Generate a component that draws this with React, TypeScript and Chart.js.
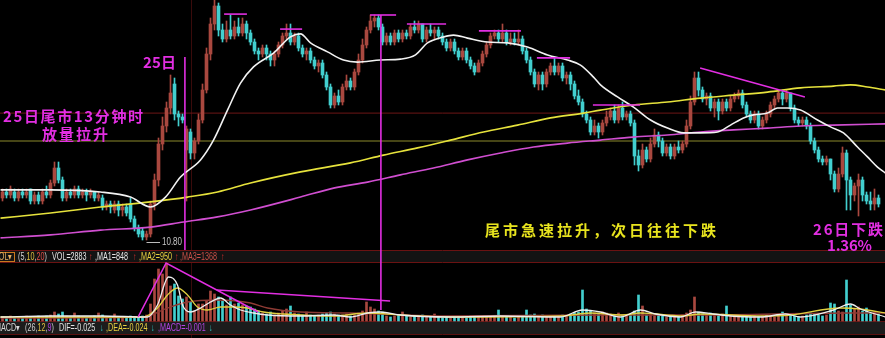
import React, { useEffect, useRef } from 'react';
import { Chart, registerables } from 'chart.js';

Chart.register(...registerables);

// ---- 1-minute bars, oldest first ----
const OPEN = [
  10.94, 10.96, 10.95, 10.96, 10.94, 10.96, 10.95, 10.97, 10.93, 10.95,
  10.93, 10.96, 10.95, 10.99, 11.04, 11.00, 10.94, 10.96, 10.95, 10.97,
  10.95, 10.96, 10.95, 10.96, 10.94, 10.94, 10.91, 10.92, 10.90, 10.92,
  10.90, 10.91, 10.92, 10.87, 10.84, 10.83, 10.81, 10.82, 10.92, 11.00,
  11.12, 11.18, 11.24, 11.32, 11.22, 11.21, 11.10, 11.16, 11.09, 11.13,
  11.20, 11.30, 11.42, 11.52, 11.58, 11.50, 11.47, 11.50, 11.48, 11.51,
  11.49, 11.52, 11.49, 11.46, 11.43, 11.42, 11.44, 11.42, 11.40, 11.42,
  11.45, 11.48, 11.49, 11.46, 11.48, 11.44, 11.42, 11.43, 11.40, 11.38,
  11.39, 11.35, 11.31, 11.25, 11.28, 11.26, 11.31, 11.33, 11.31, 11.36,
  11.40, 11.45, 11.50, 11.53, 11.54, 11.51, 11.46, 11.48, 11.46, 11.49,
  11.47, 11.49, 11.48, 11.51, 11.50, 11.52, 11.47, 11.50, 11.49, 11.50,
  11.48, 11.46, 11.44, 11.46, 11.43, 11.41, 11.43, 11.40, 11.38, 11.36,
  11.39, 11.42, 11.45, 11.48, 11.49, 11.47, 11.49, 11.46, 11.47, 11.46,
  11.47, 11.43, 11.40, 11.36, 11.32, 11.35, 11.32, 11.36, 11.38, 11.36,
  11.38, 11.34, 11.35, 11.32, 11.28, 11.26, 11.22, 11.20, 11.16, 11.18,
  11.16, 11.19, 11.21, 11.23, 11.20, 11.24, 11.21, 11.22, 11.19, 11.08,
  11.05, 11.10, 11.07, 11.12, 11.15, 11.13, 11.09, 11.11, 11.08, 11.11,
  11.10, 11.12, 11.18, 11.26, 11.34, 11.30, 11.27, 11.28, 11.24, 11.26,
  11.23, 11.26, 11.24, 11.27, 11.28, 11.29, 11.25, 11.22, 11.20, 11.22,
  11.18, 11.20, 11.22, 11.25, 11.27, 11.29, 11.27, 11.29, 11.24, 11.20,
  11.19, 11.20, 11.18, 11.13, 11.10, 11.07, 11.06, 11.07, 11.02, 10.97,
  11.02, 11.09, 11.00, 10.95, 10.98, 11.00, 10.95, 10.93, 10.92, 10.94,
];

const CLOSE = [
  10.96, 10.95, 10.97, 10.94, 10.96, 10.95, 10.96, 10.93, 10.95, 10.93,
  10.96, 10.95, 10.99, 11.04, 11.00, 10.94, 10.96, 10.95, 10.97, 10.95,
  10.96, 10.95, 10.96, 10.94, 10.95, 10.91, 10.92, 10.91, 10.92, 10.90,
  10.91, 10.89, 10.87, 10.84, 10.82, 10.81, 10.82, 10.92, 11.00, 11.12,
  11.18, 11.24, 11.29, 11.22, 11.21, 11.20, 11.17, 11.09, 11.13, 11.20,
  11.30, 11.42, 11.52, 11.58, 11.50, 11.47, 11.50, 11.48, 11.51, 11.49,
  11.52, 11.49, 11.46, 11.43, 11.42, 11.44, 11.42, 11.40, 11.42, 11.45,
  11.48, 11.49, 11.46, 11.48, 11.44, 11.42, 11.43, 11.40, 11.38, 11.39,
  11.35, 11.31, 11.25, 11.28, 11.26, 11.31, 11.33, 11.31, 11.36, 11.40,
  11.45, 11.50, 11.53, 11.54, 11.51, 11.46, 11.48, 11.46, 11.49, 11.47,
  11.49, 11.48, 11.51, 11.50, 11.52, 11.47, 11.50, 11.49, 11.50, 11.48,
  11.46, 11.44, 11.46, 11.43, 11.41, 11.43, 11.40, 11.38, 11.36, 11.39,
  11.42, 11.45, 11.48, 11.49, 11.47, 11.49, 11.46, 11.47, 11.46, 11.47,
  11.43, 11.40, 11.36, 11.32, 11.35, 11.32, 11.36, 11.38, 11.36, 11.38,
  11.34, 11.35, 11.32, 11.28, 11.26, 11.22, 11.20, 11.16, 11.18, 11.16,
  11.19, 11.21, 11.23, 11.20, 11.24, 11.21, 11.22, 11.19, 11.08, 11.05,
  11.10, 11.07, 11.12, 11.15, 11.13, 11.09, 11.11, 11.08, 11.11, 11.10,
  11.12, 11.18, 11.26, 11.34, 11.30, 11.27, 11.28, 11.24, 11.26, 11.23,
  11.26, 11.24, 11.27, 11.28, 11.29, 11.25, 11.22, 11.20, 11.22, 11.18,
  11.20, 11.22, 11.25, 11.27, 11.29, 11.27, 11.29, 11.24, 11.20, 11.19,
  11.20, 11.18, 11.13, 11.10, 11.07, 11.06, 11.07, 11.02, 10.97, 11.02,
  11.09, 11.00, 10.95, 10.98, 11.00, 10.95, 10.93, 10.92, 10.94, 10.92,
];

const HIGH = [
  10.97, 10.97, 10.98, 10.97, 10.97, 10.97, 10.97, 10.97, 10.96, 10.96,
  10.97, 10.98, 11.00, 11.06, 11.06, 11.01, 10.97, 10.97, 10.98, 10.98,
  10.97, 10.97, 10.97, 10.96, 10.96, 10.95, 10.93, 10.93, 10.93, 10.93,
  10.92, 10.92, 10.94, 10.88, 10.85, 10.84, 10.83, 10.93, 11.02, 11.14,
  11.21, 11.26, 11.35, 11.34, 11.23, 11.22, 11.18, 11.17, 11.14, 11.22,
  11.32, 11.44, 11.54, 11.60, 11.59, 11.52, 11.53, 11.55, 11.53, 11.54,
  11.54, 11.53, 11.50, 11.47, 11.44, 11.45, 11.45, 11.43, 11.43, 11.46,
  11.49, 11.52, 11.52, 11.49, 11.49, 11.45, 11.44, 11.44, 11.41, 11.40,
  11.40, 11.36, 11.32, 11.29, 11.30, 11.32, 11.35, 11.34, 11.37, 11.42,
  11.47, 11.51, 11.55, 11.55, 11.55, 11.52, 11.49, 11.49, 11.50, 11.50,
  11.50, 11.50, 11.52, 11.53, 11.53, 11.52, 11.51, 11.52, 11.51, 11.51,
  11.49, 11.47, 11.47, 11.47, 11.44, 11.44, 11.44, 11.41, 11.39, 11.40,
  11.43, 11.46, 11.49, 11.50, 11.50, 11.52, 11.50, 11.49, 11.49, 11.50,
  11.48, 11.44, 11.41, 11.37, 11.36, 11.36, 11.37, 11.39, 11.41, 11.39,
  11.39, 11.36, 11.36, 11.33, 11.30, 11.27, 11.23, 11.21, 11.20, 11.19,
  11.20, 11.23, 11.24, 11.25, 11.25, 11.26, 11.23, 11.23, 11.20, 11.10,
  11.12, 11.11, 11.14, 11.17, 11.16, 11.14, 11.12, 11.12, 11.12, 11.13,
  11.13, 11.20, 11.28, 11.36, 11.36, 11.31, 11.29, 11.29, 11.27, 11.27,
  11.27, 11.27, 11.28, 11.29, 11.30, 11.30, 11.26, 11.23, 11.23, 11.23,
  11.21, 11.23, 11.26, 11.28, 11.30, 11.30, 11.30, 11.29, 11.25, 11.21,
  11.21, 11.21, 11.19, 11.14, 11.11, 11.08, 11.08, 11.07, 11.03, 11.04,
  11.11, 11.10, 11.01, 10.99, 11.02, 11.01, 10.96, 10.96, 10.97, 10.95,
];

const LOW = [
  10.93, 10.94, 10.94, 10.93, 10.93, 10.94, 10.94, 10.92, 10.92, 10.92,
  10.92, 10.94, 10.94, 10.98, 10.99, 10.93, 10.93, 10.94, 10.94, 10.94,
  10.94, 10.93, 10.94, 10.93, 10.93, 10.90, 10.90, 10.89, 10.89, 10.88,
  10.88, 10.88, 10.86, 10.83, 10.81, 10.80, 10.80, 10.81, 10.90, 10.98,
  11.10, 11.16, 11.22, 11.20, 11.18, 11.19, 10.93, 11.07, 11.07, 11.12,
  11.19, 11.29, 11.40, 11.50, 11.48, 11.46, 11.46, 11.47, 11.47, 11.48,
  11.48, 11.47, 11.45, 11.42, 11.40, 11.41, 11.40, 11.38, 11.38, 11.41,
  11.44, 11.47, 11.45, 11.45, 11.43, 11.41, 11.40, 11.39, 11.37, 11.36,
  11.34, 11.30, 11.24, 11.24, 11.25, 11.25, 11.30, 11.30, 11.30, 11.35,
  11.39, 11.44, 11.49, 11.51, 11.50, 11.45, 11.45, 11.45, 11.45, 11.46,
  11.46, 11.47, 11.47, 11.49, 11.49, 11.46, 11.46, 11.48, 11.47, 11.47,
  11.45, 11.43, 11.43, 11.42, 11.40, 11.40, 11.39, 11.37, 11.35, 11.36,
  11.38, 11.41, 11.44, 11.47, 11.46, 11.46, 11.45, 11.45, 11.45, 11.45,
  11.42, 11.39, 11.35, 11.31, 11.30, 11.30, 11.31, 11.35, 11.35, 11.35,
  11.33, 11.32, 11.30, 11.27, 11.25, 11.21, 11.19, 11.15, 11.15, 11.14,
  11.15, 11.18, 11.20, 11.19, 11.19, 11.20, 11.20, 11.18, 11.05, 11.03,
  11.04, 11.06, 11.06, 11.11, 11.11, 11.08, 11.08, 11.07, 11.07, 11.09,
  11.09, 11.11, 11.17, 11.25, 11.28, 11.26, 11.25, 11.23, 11.21, 11.20,
  11.22, 11.23, 11.23, 11.26, 11.27, 11.24, 11.21, 11.19, 11.19, 11.17,
  11.17, 11.19, 11.21, 11.24, 11.26, 11.25, 11.26, 11.23, 11.19, 11.18,
  11.18, 11.17, 11.12, 11.09, 11.06, 11.05, 11.05, 11.00, 10.96, 10.96,
  11.01, 10.90, 10.90, 10.93, 10.88, 10.93, 10.92, 10.90, 10.90, 10.91,
];

const VOLUME = [
  200, 150, 250, 150, 200, 150, 250, 200, 150, 250,
  200, 250, 300, 450, 350, 450, 250, 200, 400, 250,
  200, 150, 200, 250, 400, 300, 200, 150, 350, 200,
  150, 200, 250, 200, 150, 250, 300, 850, 2100, 2600,
  2350, 2850, 1750, 1850, 1250, 1100, 1200, 950, 500, 850,
  850, 1000, 1500, 1350, 1200, 1000, 800, 1200, 850, 900,
  800, 750, 700, 600, 500, 400, 350, 450, 300, 400,
  500, 600, 750, 400, 350, 300, 450, 300, 250, 300,
  350, 400, 450, 350, 300, 300, 350, 250, 300, 400,
  500, 950, 700, 600, 500, 450, 250, 200, 250, 300,
  450, 250, 200, 250, 200, 300, 250, 200, 350, 200,
  150, 200, 150, 200, 150, 200, 150, 250, 200, 250,
  200, 250, 200, 250, 550, 200, 250, 200, 150, 200,
  250, 550, 300, 350, 250, 300, 250, 200, 250, 200,
  300, 250, 350, 400, 450, 1550, 600, 500, 400, 350,
  450, 400, 350, 300, 400, 300, 250, 300, 500, 1300,
  750, 300, 350, 250, 300, 250, 200, 250, 200, 250,
  300, 400, 550, 1200, 450, 350, 300, 400, 300, 250,
  350, 750, 300, 250, 200, 300, 250, 200, 250, 200,
  250, 300, 250, 200, 250, 450, 250, 300, 250, 200,
  250, 300, 400, 350, 300, 250, 300, 900, 850, 500,
  450, 2050, 800, 600, 700, 500, 650, 400, 450, 350,
];

// ---- price moving averages, [bar index, value] ----
const MA_SHORT: [number, number][] = [
  [-0.5, 10.967], [12, 10.967], [24.5, 10.96], [32, 10.943], [37, 10.91], [40.75, 10.943],
  [44.5, 11.01], [49.5, 11.067], [52.75, 11.133], [56.25, 11.233], [59.5, 11.323], [62.75, 11.377],
  [67.75, 11.423], [72, 11.477], [74.5, 11.487], [77, 11.457], [81.25, 11.427], [85.25, 11.4],
  [88.75, 11.393], [94.5, 11.4], [99.5, 11.403], [103.25, 11.417], [106.25, 11.457], [110.25, 11.477],
  [112.75, 11.483], [116.25, 11.473], [121.25, 11.46], [126.25, 11.457], [131.25, 11.443], [136.25, 11.417],
  [141.25, 11.4], [144.5, 11.383], [147.75, 11.343], [149.5, 11.317], [153.75, 11.277], [157.75, 11.243],
  [162, 11.2], [166.25, 11.173], [170.25, 11.157], [174.5, 11.157], [178.75, 11.16], [182, 11.183],
  [185.25, 11.207], [187.75, 11.217], [191.25, 11.223], [193.75, 11.24], [196.25, 11.24], [199.5, 11.233],
  [203.75, 11.2], [207, 11.177], [210.25, 11.157], [213.75, 11.11], [216.25, 11.077], [218.75, 11.043],
  [220.75, 11.023],
];

const MA_MID: [number, number][] = [
  [-0.5, 10.873], [12, 10.89], [24.5, 10.91], [37, 10.927], [46.25, 10.943], [53.75, 10.96],
  [62, 10.99], [74.5, 11.027], [87, 11.057], [95.25, 11.083], [103.75, 11.107], [112, 11.133],
  [120.25, 11.16], [128.75, 11.183], [137, 11.207], [145.25, 11.223], [149.5, 11.233], [157.75, 11.25],
  [166.25, 11.26], [174.5, 11.273], [182.75, 11.283], [191.25, 11.293], [199.5, 11.307], [207.75, 11.313],
  [212, 11.317], [216.25, 11.31], [220.75, 11.3],
];

const MA_LONG: [number, number][] = [
  [-0.5, 10.807], [12, 10.817], [24.5, 10.833], [37, 10.843], [45.25, 10.86], [53.75, 10.877],
  [62, 10.9], [74.5, 10.943], [82.75, 10.973], [91.25, 10.993], [99.5, 11.017], [107.75, 11.04],
  [116.25, 11.067], [124.5, 11.09], [132.75, 11.11], [141.25, 11.123], [149.5, 11.133], [157.75, 11.143],
  [166.25, 11.15], [174.5, 11.16], [182.75, 11.167], [191.25, 11.173], [199.5, 11.18], [207.75, 11.183],
  [220.75, 11.187],
];

// ---- volume moving averages ----
const VOL_MA1: [number, number][] = [
  [-0.5, 200], [12, 250], [24.5, 250], [36.25, 200], [38.75, 800], [41.5, 2200], [43.75, 1800],
  [45, 800], [47, 450], [49.5, 650], [52, 950], [54.5, 1150], [57, 800], [59.5, 550], [62.75, 400],
  [66.25, 300], [74.5, 250], [82.75, 300], [87, 200], [91.25, 400], [94.5, 450], [99.5, 300],
  [112, 200], [124.5, 250], [139.5, 200], [145, 550], [149.5, 450], [154.5, 200], [159.5, 550],
  [163.25, 350], [169.5, 200], [173.25, 450], [177.75, 350], [182, 250], [189.5, 200], [195.75, 350],
  [199.5, 200], [207.75, 550], [212, 850], [214.5, 600], [220.75, 200],
];

const VOL_MA2: [number, number][] = [
  [-0.5, 200], [35.25, 200], [38.75, 650], [41.25, 1300], [43.75, 1650], [46.25, 1300], [48.75, 700],
  [51.25, 550], [54.5, 700], [57.75, 700], [61.25, 650], [65.25, 450], [70.25, 350], [82.75, 250],
  [91.25, 400], [99.5, 300], [112, 200], [140, 250], [147, 400], [155, 300], [159.5, 400], [170, 250],
  [174.5, 350], [190, 250], [197, 300], [209.5, 650], [214.5, 600], [220.75, 400],
];

const VOL_MA3: [number, number][] = [
  [-0.5, 150], [35.25, 200], [41.25, 650], [46.25, 950], [53.75, 1050], [62, 900], [66.25, 650],
  [74.5, 450], [87, 400], [112, 250], [149.5, 300], [174.5, 300], [212, 400], [220.75, 400],
];

// ---- reference levels and hand-drawn markings ----
const REF_UPPER = 11.223;
const REF_LOWER = 11.13;
const DAY_LOW = 10.8;
const DAY_LOW_BAR = 36;
const MARK_25 = { at: 45.6, top: 11.41 };
const MARK_CLOSE = { at: 94.6, top: 11.55, volBottom: 550 };
const TOP_MARKS: [number, number, number][] = [
  [55.4, 61.1, 11.553], [69.4, 74.9, 11.503], [91.9, 98.4, 11.55], [101.1, 110.9, 11.52],
  [119.1, 129.6, 11.497], [133.6, 141.9, 11.407], [147.6, 159.4, 11.25],
];
const TREND_LINE: [number, number][] = [[174.4, 11.373], [200.6, 11.277]];
const VOL_WEDGE: [number, number][] = [[33.9, 200], [40.9, 2900], [63.9, 450]];
const VOL_TREND: [number, number][] = [[53.6, 1550], [96.9, 1000]];

// ---- scale geometry ----
const W = 885;
const H = 338;
const BAR_PITCH = 4;
const X_MIN = -0.625;
const X_MAX = W / BAR_PITCH - 0.625;
const PRICE_MAX = 11.6;
const PX_PER_CENT = 3;
const PRICE_MIN = PRICE_MAX - H / (PX_PER_CENT * 100);
const MAIN_FLOOR = PRICE_MAX - 250 / (PX_PER_CENT * 100);
const VOL_PER_PX = 50;
const VOL_BASE_Y = 321;
const VOL_MAX = VOL_BASE_Y * VOL_PER_PX;
const VOL_MIN = -(H - VOL_BASE_Y) * VOL_PER_PX;

const UP = '#a9483f';
const DOWN = '#42cfcf';
const MAGENTA = '#e22ee2';
const TEXT_YELLOW = '#e8e41e';
const CJK = '"Noto Sans CJK SC", "Noto Sans CJK TC", sans-serif';
const LATIN = '"Liberation Sans", Arial, sans-serif';

type Seg = [string, string];

function segText(ctx: CanvasRenderingContext2D, segs: Seg[], x: number, y: number, sx: number) {
  ctx.save();
  ctx.translate(x, y);
  ctx.scale(sx, 1);
  let cx = 0;
  for (const [t, c] of segs) {
    ctx.fillStyle = c;
    ctx.fillText(t, cx, 0);
    cx += ctx.measureText(t).width;
  }
  ctx.restore();
}

function spread(ctx: CanvasRenderingContext2D, text: string, x0: number, x1: number, y: number, font: string, color: string) {
  ctx.font = font;
  ctx.fillStyle = color;
  ctx.textBaseline = 'middle';
  ctx.textAlign = 'left';
  const chars = Array.from(text);
  const widths = chars.map((c) => ctx.measureText(c).width);
  const total = widths.reduce((a, b) => a + b, 0);
  const gap = chars.length > 1 ? (x1 - x0 - total) / (chars.length - 1) : 0;
  let x = x0;
  chars.forEach((c, k) => {
    ctx.fillText(c, x, y);
    x += widths[k] + gap;
  });
}

function seg(ctx: CanvasRenderingContext2D, x1: number, y1: number, x2: number, y2: number) {
  ctx.beginPath();
  ctx.moveTo(x1, y1);
  ctx.lineTo(x2, y2);
  ctx.stroke();
}

const decor = {
  id: 'decor',
  beforeDraw(chart: any) {
    const { ctx } = chart;
    const sx = chart.scales.x;
    ctx.save();
    ctx.fillStyle = '#000';
    ctx.fillRect(0, 0, W, H);
    // session divider
    ctx.strokeStyle = '#3a0b0b';
    ctx.lineWidth = 1;
    const gx = Math.round(sx.getPixelForValue(47)) + 0.5;
    seg(ctx, gx, 0, gx, H);
    // volume header strip
    ctx.fillStyle = '#131313';
    ctx.fillRect(0, 251, W, 11);
    ctx.strokeStyle = '#6a1212';
    seg(ctx, 0, 250.5, W, 250.5);
    seg(ctx, 0, 262.5, W, 262.5);
    // MACD header strip
    ctx.fillStyle = '#1c1c1c';
    ctx.fillRect(0, 322, W, 12);
    ctx.strokeStyle = '#5a1010';
    seg(ctx, 0, 321.5, W, 321.5);
    seg(ctx, 0, 334.5, W, 334.5);
    ctx.restore();
  },
  afterDatasetsDraw(chart: any) {
    const { ctx } = chart;
    const X = (v: number) => chart.scales.x.getPixelForValue(v);
    const Y = (v: number) => chart.scales.y.getPixelForValue(v);
    const V = (v: number) => chart.scales.yv.getPixelForValue(v);
    ctx.save();

    // hand-drawn markings
    ctx.strokeStyle = MAGENTA;
    ctx.lineWidth = 1.6;
    seg(ctx, X(MARK_25.at), Y(MARK_25.top), X(MARK_25.at), Y(MAIN_FLOOR));
    seg(ctx, X(MARK_CLOSE.at), Y(MARK_CLOSE.top), X(MARK_CLOSE.at), V(MARK_CLOSE.volBottom));
    for (const [a, b, p] of TOP_MARKS) seg(ctx, X(a), Y(p), X(b), Y(p));
    seg(ctx, X(TREND_LINE[0][0]), Y(TREND_LINE[0][1]), X(TREND_LINE[1][0]), Y(TREND_LINE[1][1]));
    ctx.beginPath();
    VOL_WEDGE.forEach(([i, v], k) => (k ? ctx.lineTo(X(i), V(v)) : ctx.moveTo(X(i), V(v))));
    ctx.stroke();
    seg(ctx, X(VOL_TREND[0][0]), V(VOL_TREND[0][1]), X(VOL_TREND[1][0]), V(VOL_TREND[1][1]));

    // day-low label
    const ly = Math.round(Y(DAY_LOW)) + 2.5;
    ctx.strokeStyle = '#bcbcbc';
    ctx.lineWidth = 1;
    seg(ctx, X(DAY_LOW_BAR), ly, 160, ly);
    ctx.font = `10px ${LATIN}`;
    ctx.textBaseline = 'middle';
    ctx.textAlign = 'left';
    segText(ctx, [['10.80', '#c4c4c4']], 162, ly, 0.8);

    // annotations
    const big = `700 15px ${CJK}`;
    spread(ctx, '25日', 143, 176, 62, big, MAGENTA);
    spread(ctx, '25日尾市13分钟时', 3, 143, 116, big, MAGENTA);
    spread(ctx, '放量拉升', 42, 108, 134, big, MAGENTA);
    spread(ctx, '尾市急速拉升，次日往往下跌', 485, 716, 230, big, TEXT_YELLOW);
    spread(ctx, '26日下跌', 813, 883, 229, big, MAGENTA);
    spread(ctx, '1.36%', 827, 872, 245, big, MAGENTA);

    // indicator headers
    ctx.font = `10px ${LATIN}`;
    ctx.textBaseline = 'middle';
    ctx.textAlign = 'left';
    const S = 0.72;
    ctx.strokeStyle = '#c8781e';
    ctx.lineWidth = 1;
    ctx.strokeRect(-12.5, 252.5, 27, 9);
    const hy = 257;
    segText(ctx, [['VOL▾', '#e8b060']], -6, hy, S);
    segText(ctx, [['(5,', '#d0d0d0'], ['10', '#e0c040'], [',', '#d0d0d0'], ['20', '#e05048'], [')', '#d0d0d0']], 18, hy, S);
    segText(ctx, [['VOL=2883', '#e4e4e4']], 52, hy, S);
    segText(ctx, [['↑', '#e03030']], 89, hy, S);
    segText(ctx, [[',MA1=848', '#e4e4e4']], 95, hy, S);
    segText(ctx, [['↑', '#e03030']], 133, hy, S);
    segText(ctx, [[',MA2=950', '#e8d040']], 139, hy, S);
    segText(ctx, [['↑', '#e03030']], 175, hy, S);
    segText(ctx, [[',MA3=1368', '#c85048']], 180, hy, S);
    segText(ctx, [['↑', '#e03030']], 221, hy, S);

    const my = 328;
    segText(ctx, [['MACD▾', '#d8d8d8']], -5, my, S);
    segText(ctx, [['(26,', '#d0d0d0'], ['12', '#e0c040'], [',', '#d0d0d0'], ['9', '#b040e0'], [')', '#d0d0d0']], 25, my, S);
    segText(ctx, [['DIF=-0.025', '#e4e4e4']], 59, my, S);
    segText(ctx, [['↓', '#30d0d0']], 100, my, S);
    segText(ctx, [[',DEA=-0.024', '#e8d040']], 106, my, S);
    segText(ctx, [['↓', '#30d0d0']], 151, my, S);
    segText(ctx, [[',MACD=-0.001', '#b444e4']], 158, my, S);
    segText(ctx, [['↓', '#30d0d0']], 209, my, S);

    ctx.restore();
  },
};

function lineSet(pts: [number, number][], color: string, axis: string, width: number) {
  return {
    type: 'line' as const,
    data: pts.map(([x, y]) => ({ x, y })),
    borderColor: color,
    borderWidth: width,
    pointRadius: 0,
    cubicInterpolationMode: 'monotone' as const,
    fill: false,
    xAxisID: 'x',
    yAxisID: axis,
    order: 0,
  };
}

function levelSet(level: number, color: string) {
  return {
    type: 'line' as const,
    data: [{ x: X_MIN, y: level }, { x: X_MAX, y: level }],
    borderColor: color,
    borderWidth: 1,
    pointRadius: 0,
    tension: 0,
    fill: false,
    xAxisID: 'x',
    yAxisID: 'y',
    order: 6,
  };
}

export default function App() {
  const ref = useRef<HTMLCanvasElement>(null);

  useEffect(() => {
    document.body.style.margin = '0';
    document.body.style.background = '#000';
    const colors = OPEN.map((o, i) => (CLOSE[i] >= o ? UP : DOWN));

    const chart = new Chart(ref.current as HTMLCanvasElement, {
      type: 'bar',
      data: {
        datasets: [
          lineSet(MA_SHORT, '#f2f2f2', 'y', 1.6),
          lineSet(MA_MID, '#e6e23c', 'y', 1.6),
          lineSet(MA_LONG, '#d04ed0', 'y', 1.6),
          lineSet(VOL_MA1, '#eeeeee', 'yv', 1.3),
          lineSet(VOL_MA2, '#e0d040', 'yv', 1.3),
          lineSet(VOL_MA3, '#8e3a34', 'yv', 1.3),
          {
            type: 'bar',
            data: OPEN.map((o, i) => ({ x: i, y: [Math.min(o, CLOSE[i]), Math.max(o, CLOSE[i])] })),
            backgroundColor: colors,
            barThickness: 3,
            minBarLength: 1,
            grouped: false,
            borderWidth: 0,
            xAxisID: 'x',
            yAxisID: 'y',
            order: 2,
          },
          {
            type: 'bar',
            data: LOW.map((l, i) => ({ x: i, y: [l, HIGH[i]] })),
            backgroundColor: colors,
            barThickness: 1,
            grouped: false,
            borderWidth: 0,
            xAxisID: 'x',
            yAxisID: 'y',
            order: 3,
          },
          {
            type: 'bar',
            data: VOLUME.map((v, i) => ({ x: i, y: v })),
            backgroundColor: colors,
            barThickness: 2,
            grouped: false,
            borderWidth: 0,
            xAxisID: 'x',
            yAxisID: 'yv',
            order: 2,
          },
          levelSet(REF_UPPER, '#6e1616'),
          levelSet(REF_LOWER, '#8c8a2c'),
        ] as any,
      },
      options: {
        animation: false,
        responsive: false,
        maintainAspectRatio: false,
        devicePixelRatio: 1,
        events: [],
        layout: { padding: 0, autoPadding: false },
        plugins: { legend: { display: false }, tooltip: { enabled: false } },
        scales: {
          x: { type: 'linear', min: X_MIN, max: X_MAX, display: false, offset: false },
          y: { type: 'linear', min: PRICE_MIN, max: PRICE_MAX, display: false },
          yv: { type: 'linear', min: VOL_MIN, max: VOL_MAX, display: false },
        },
      } as any,
      plugins: [decor],
    });
    return () => chart.destroy();
  }, []);

  return (
    <div style={{ position: 'fixed', left: 0, top: 0, width: W, height: H, background: '#000' }}>
      <canvas ref={ref} width={W} height={H} style={{ display: 'block', width: W, height: H }} />
    </div>
  );
}
